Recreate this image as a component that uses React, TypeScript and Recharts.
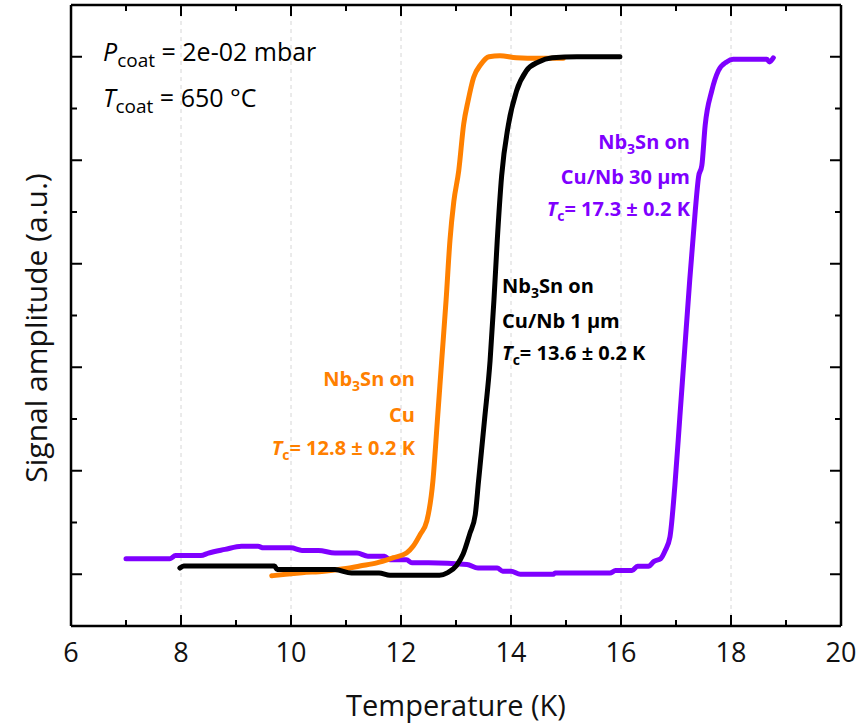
import React from "react";
import { LineChart, Line, XAxis, YAxis, CartesianGrid } from "recharts";

// Nb3Sn on Cu (orange)
const cuTemp = [9.65, 9.9, 10.2, 10.6, 11.0, 11.25, 11.56, 11.86, 12.1, 12.22, 12.35, 12.47, 12.58, 12.66, 12.74, 12.82, 12.89, 12.96, 13.05, 13.14, 13.22, 13.32, 13.45, 13.6, 13.8, 14.1, 14.5, 14.95];
const cuSignal = [-0.003, 0.0, 0.003, 0.006, 0.011, 0.016, 0.022, 0.032, 0.041, 0.054, 0.077, 0.103, 0.18, 0.295, 0.413, 0.53, 0.645, 0.72, 0.78, 0.87, 0.915, 0.96, 0.985, 1.0, 1.002, 0.998, 0.997, 0.997];

// Nb3Sn on Cu/Nb 1 um (black)
const nb1Temp = [7.98, 8.05, 9.7, 9.75, 10.8, 11.1, 11.6, 11.8, 12.7, 12.85, 13.01, 13.13, 13.25, 13.35, 13.41, 13.52, 13.62, 13.69, 13.75, 13.83, 13.95, 14.1, 14.28, 14.5, 14.75, 15.2, 15.98];
const nb1Signal = [0.012, 0.016, 0.016, 0.009, 0.009, 0.0025, 0.0025, -0.002, -0.002, 0.003, 0.017, 0.039, 0.078, 0.115, 0.18, 0.3, 0.413, 0.53, 0.645, 0.77, 0.867, 0.934, 0.973, 0.99, 0.998, 1.0, 1.0];

// Nb3Sn on Cu/Nb 30 um (purple)
const nb30Temp = [7.0, 7.8, 7.9, 8.36, 8.5, 8.8, 9.1, 9.4, 9.5, 10.0, 10.2, 10.5, 10.8, 11.2, 11.4, 11.7, 11.8, 12.1, 12.2, 12.5, 13.2, 13.4, 13.75, 13.85, 14.0, 14.17, 14.77, 14.8, 15.8, 15.9, 16.2, 16.3, 16.5, 16.6, 16.72, 16.8, 16.89, 16.98, 17.07, 17.16, 17.25, 17.35, 17.41, 17.47, 17.53, 17.65, 17.77, 17.92, 18.04, 18.65, 18.7, 18.77];
const nb30Signal = [0.03, 0.03, 0.036, 0.036, 0.041, 0.048, 0.054, 0.054, 0.051, 0.051, 0.046, 0.046, 0.041, 0.041, 0.035, 0.035, 0.028, 0.028, 0.022, 0.022, 0.019, 0.012, 0.012, 0.006, 0.006, 0.0, 0.0, 0.0025, 0.0025, 0.007, 0.007, 0.0155, 0.0155, 0.025, 0.03, 0.045, 0.072, 0.172, 0.304, 0.437, 0.569, 0.702, 0.768, 0.79, 0.867, 0.934, 0.973, 0.99, 0.995, 0.995, 0.99, 0.998];

const xMajor = [6, 8, 10, 12, 14, 16, 18, 20];
const xMinor = [7, 9, 11, 13, 15, 17, 19];
const yMajor = [0, 0.2, 0.4, 0.6, 0.8, 1.0];
const yMinor = [0.1, 0.3, 0.5, 0.7, 0.9];

const X_MIN = 6;
const X_MAX = 20;
const Y_MIN = -0.1;
const Y_MAX = 1.1;

// chart box
const W = 856;
const H = 724;
const M = { top: 5, right: 15, bottom: 98, left: 71 };
const PLOT_L = M.left;
const PLOT_R = W - M.right;
const PLOT_T = M.top;
const PLOT_B = H - M.bottom;
const xPos = (t: number) => PLOT_L + ((t - X_MIN) / (X_MAX - X_MIN)) * (PLOT_R - PLOT_L);

const zip = (t: number[], v: number[]) => t.map((x, i) => ({ t: x, v: v[i] }));

const ORANGE = "#FF8000";
const PURPLE = "#7F00FF";
const FONT = "'Open Sans', sans-serif";

const tickLine = { stroke: "#000", strokeWidth: 2 };
const frame = { stroke: "#000", strokeWidth: 2.5 };
const noLabel = () => "";
const hiddenTick = { fontSize: 1, fill: "none" };

// a text line of the form  <main>[sub]<rest>
const SubText = ({ x, y, main, sub, rest, subSize, shift, italic }: {
  x: number; y: number; main: string; sub: string; rest: string; subSize: number; shift: number; italic?: boolean;
}) => (
  <text x={x} y={y} style={{ whiteSpace: "pre" }}>
    <tspan fontStyle={italic ? "italic" : "normal"}>{main}</tspan>
    <tspan fontSize={subSize} dy={shift}>{sub}</tspan>
    <tspan dy={-shift}>{rest}</tspan>
  </text>
);

const xTickMarks = [
  ...xMajor.map((t) => ({ t, len: 11 })),
  ...xMinor.map((t) => ({ t, len: 6 })),
];

export default function App() {
  return (
    <div style={{ position: "absolute", left: 0, top: 0, width: W, height: H, background: "#fff" }}>
      <LineChart width={W} height={H} margin={M}>
        <CartesianGrid xAxisId="x" yAxisId="y" horizontal={false} stroke="#d6d6d6" strokeDasharray="4 4" />
        <XAxis
          xAxisId="x"
          type="number"
          dataKey="t"
          domain={[X_MIN, X_MAX]}
          ticks={xMajor}
          interval={0}
          allowDataOverflow
          height={0.01}
          axisLine={frame}
          tickLine={false}
          tickSize={0}
          tickMargin={17}
          tick={{ fontSize: 27, fill: "#111", fontFamily: FONT }}
        />
        <XAxis xAxisId="top" orientation="top" type="number" domain={[X_MIN, X_MAX]} ticks={xMajor} allowDataOverflow height={0.01} axisLine={frame} tickLine={false} tick={false} />
        {/* inward tick marks on left and right */}
        <YAxis yAxisId="y" type="number" domain={[Y_MIN, Y_MAX]} ticks={yMajor} allowDataOverflow width={0.01} mirror axisLine={frame} tick={hiddenTick} tickFormatter={noLabel} tickSize={11} tickLine={tickLine} />
        <YAxis yAxisId="lmin" type="number" domain={[Y_MIN, Y_MAX]} ticks={yMinor} allowDataOverflow width={0.01} mirror axisLine={false} tick={hiddenTick} tickFormatter={noLabel} tickSize={6} tickLine={tickLine} />
        <YAxis yAxisId="rmaj" orientation="right" type="number" domain={[Y_MIN, Y_MAX]} ticks={yMajor} allowDataOverflow width={0.01} mirror axisLine={frame} tick={hiddenTick} tickFormatter={noLabel} tickSize={11} tickLine={tickLine} />
        <YAxis yAxisId="rmin" orientation="right" type="number" domain={[Y_MIN, Y_MAX]} ticks={yMinor} allowDataOverflow width={0.01} mirror axisLine={false} tick={hiddenTick} tickFormatter={noLabel} tickSize={6} tickLine={tickLine} />

        <Line xAxisId="x" yAxisId="y" data={zip(nb30Temp, nb30Signal)} dataKey="v" type="monotone" stroke={PURPLE} strokeWidth={5} dot={false} strokeLinecap="round" strokeLinejoin="round" isAnimationActive={false} />
        <Line xAxisId="x" yAxisId="y" data={zip(cuTemp, cuSignal)} dataKey="v" type="monotone" stroke={ORANGE} strokeWidth={5} dot={false} strokeLinecap="round" strokeLinejoin="round" isAnimationActive={false} />
        <Line xAxisId="x" yAxisId="y" data={zip(nb1Temp, nb1Signal)} dataKey="v" type="monotone" stroke="#000" strokeWidth={5} dot={false} strokeLinecap="round" strokeLinejoin="round" isAnimationActive={false} />
      </LineChart>

      <svg width={W} height={H} style={{ position: "absolute", left: 0, top: 0, pointerEvents: "none" }} fontFamily={FONT}>
        {/* inward tick marks on the bottom and top frame */}
        <g stroke="#000" strokeWidth={2}>
          {xTickMarks.map(({ t, len }) => (
            <line key={`b${t}`} x1={xPos(t)} x2={xPos(t)} y1={PLOT_B} y2={PLOT_B - len} />
          ))}
          {xTickMarks.map(({ t, len }) => (
            <line key={`t${t}`} x1={xPos(t)} x2={xPos(t)} y1={PLOT_T} y2={PLOT_T + len} />
          ))}
        </g>

        {/* axis titles */}
        <text x={456} y={716} textAnchor="middle" fontSize={29} fill="#111">Temperature (K)</text>
        <text transform="translate(47,328) rotate(-90)" textAnchor="middle" fontSize={30} fill="#111">Signal amplitude (a.u.)</text>

        {/* coating conditions */}
        <g fontSize={25} fill="#000">
          <SubText x={103} y={61} main="P" sub="coat" rest=" = 2e-02 mbar" subSize={19} shift={6} italic />
          <SubText x={103} y={107} main="T" sub="coat" rest=" = 650 °C" subSize={19} shift={6} italic />
        </g>

        {/* Cu */}
        <g fontSize={20} fontWeight={700} fill={ORANGE} textAnchor="end">
          <SubText x={415} y={386} main="Nb" sub="3" rest="Sn on" subSize={14} shift={5} />
          <text x={415} y={422}>Cu</text>
          <SubText x={415} y={455} main="T" sub="c" rest="= 12.8 ± 0.2 K" subSize={14} shift={5} italic />
        </g>

        {/* Cu/Nb 1 um */}
        <g fontSize={20} fontWeight={700} fill="#000" textAnchor="start">
          <SubText x={502} y={293} main="Nb" sub="3" rest="Sn on" subSize={14} shift={5} />
          <text x={502} y={328}>Cu/Nb 1 μm</text>
          <SubText x={502} y={360} main="T" sub="c" rest="= 13.6 ± 0.2 K" subSize={14} shift={5} italic />
        </g>

        {/* Cu/Nb 30 um */}
        <g fontSize={20} fontWeight={700} fill={PURPLE} textAnchor="end">
          <SubText x={690} y={149} main="Nb" sub="3" rest="Sn on" subSize={14} shift={5} />
          <text x={690} y={184}>Cu/Nb 30 μm</text>
          <SubText x={690} y={216} main="T" sub="c" rest="= 17.3 ± 0.2 K" subSize={14} shift={5} italic />
        </g>
      </svg>
    </div>
  );
}
